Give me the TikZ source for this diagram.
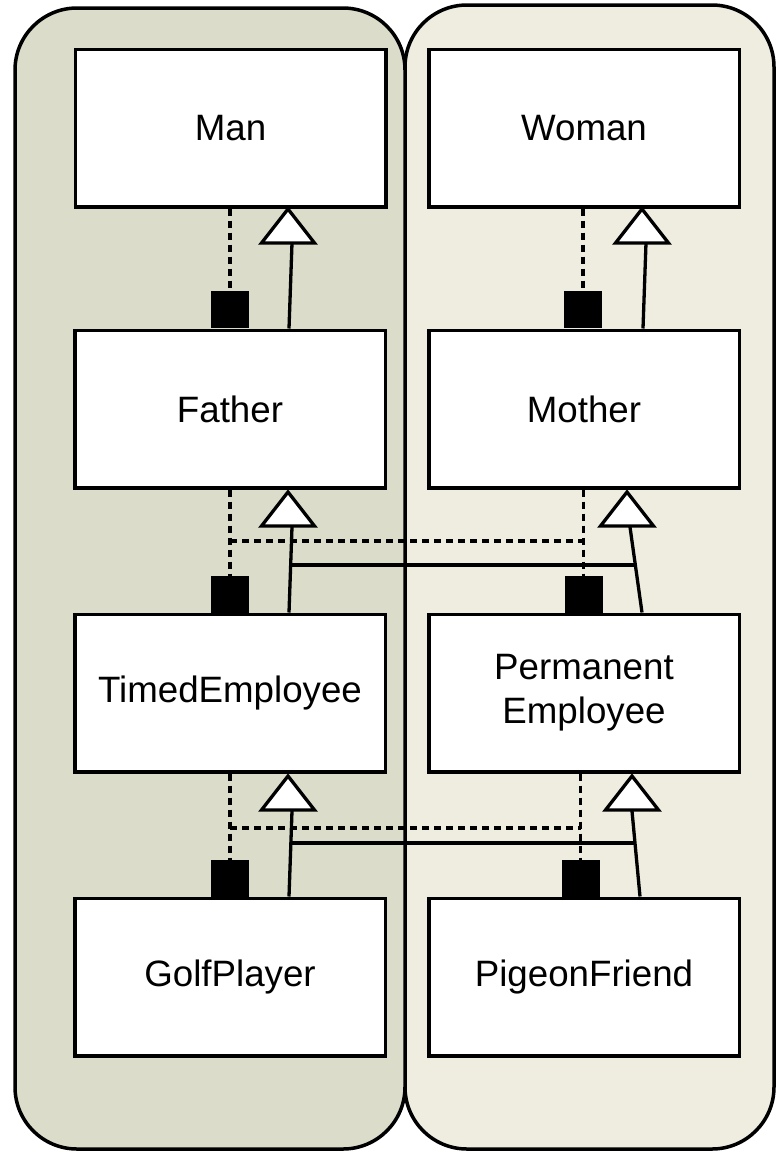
\documentclass[tikz,border=0pt]{standalone}
\usepackage{fontspec}
\setmainfont{Liberation Sans}
\definecolor{leftfill}{RGB}{219,220,202}
\definecolor{rightfill}{RGB}{239,237,224}
\begin{document}
\begin{tikzpicture}[x=1pt,y=-1pt,
  panel/.style={draw=black, line width=3.5pt, rounded corners=62pt},
  cls/.style={draw=black, line width=3.5pt, fill=white, minimum width=310.5pt,
    minimum height=157.5pt, inner sep=0pt, align=center,
    font=\fontsize{36.7}{44}\selectfont},
  sq/.style={fill=black, minimum width=38pt, minimum height=37pt, inner sep=0pt},
  dep/.style={line width=3.3pt, dash pattern=on 7pt off 5pt},
  inh/.style={line width=3.3pt},
  gtri/.pic={\draw[line width=3.3pt, fill=white, line join=miter]
    (0,0) -- (-26.5,34) -- (26.5,34) -- cycle;},
]
\useasboundingbox (0,0) rectangle (776,1152);

% two swimlanes
\draw[panel, fill=rightfill] (405,5) rectangle (774,1149);
\draw[panel, fill=leftfill] (15,8) rectangle (405,1149);

% classes
\node[cls] (man)    at (230.5,128) {Man};
\node[cls] (father) at (230,409)   {Father};
\node[cls] (timed)  at (230,693)   {TimedEmployee};
\node[cls] (golf)   at (230,977)   {GolfPlayer};
\node[cls] (woman)  at (584,128)   {Woman};
\node[cls] (mother) at (584,409)   {Mother};
\node[cls] (perm)   at (584,693)   {Permanent\\Employee};
\node[cls] (pigeon) at (584,977)   {PigeonFriend};

% Man / Woman -> Father / Mother
\node[sq, anchor=south] (sqF) at (230,328) {};
\draw[dep] (man.south -| sqF) -- (sqF.north);
\coordinate (bMF) at (292,243);
\draw[inh] (father.north -| 289,0) -- (bMF);
\pic at (288,209) {gtri};

\node[sq, anchor=south] (sqM) at (583,328) {};
\draw[dep] (woman.south -| sqM) -- (sqM.north);
\coordinate (bWM) at (646,243);
\draw[inh] (mother.north -| 643,0) -- (bWM);
\pic at (642,209) {gtri};

% Father / Mother -> TimedEmployee / PermanentEmployee
\node[sq, anchor=south] (sqT) at (230,613) {};
\node[sq, anchor=south] (sqP) at (583.5,613) {};
\coordinate (dj1) at (0,541);
\draw[dep] (father.south -| sqT) -- (sqT.north);
\draw[dep] (mother.south -| sqP) -- (sqP.north);
\draw[dep] (sqT |- dj1) -- (sqP |- dj1);
\coordinate (bFT) at (292,527);
\coordinate (bMP) at (630,527);
\draw[inh] (timed.north -| 289,0) -- (bFT);
\draw[inh] (perm.north -| 642,0) -- (bMP);
\coordinate (hT) at (291,565);
\coordinate (hP) at (635.4,565);
\draw[inh] (hT) -- (hP);
\pic at (288,492) {gtri};
\pic at (627,492) {gtri};

% TimedEmployee / PermanentEmployee -> GolfPlayer / PigeonFriend
\node[sq, anchor=south] (sqG) at (230,897) {};
\node[sq, anchor=south] (sqPF) at (580.5,897) {};
\coordinate (dj2) at (0,828);
\draw[dep] (timed.south -| sqG) -- (sqG.north);
\draw[dep] (perm.south -| sqPF) -- (sqPF.north);
\draw[dep] (sqG |- dj2) -- (sqPF |- dj2);
\coordinate (bTG) at (292,811);
\coordinate (bPF) at (632,811);
\draw[inh] (golf.north -| 289,0) -- (bTG);
\draw[inh] (pigeon.north -| 640,0) -- (bPF);
\coordinate (gT) at (291,843);
\coordinate (gP) at (635,843);
\draw[inh] (gT) -- (gP);
\pic at (288,776) {gtri};
\pic at (632,776) {gtri};
\end{tikzpicture}
\end{document}
